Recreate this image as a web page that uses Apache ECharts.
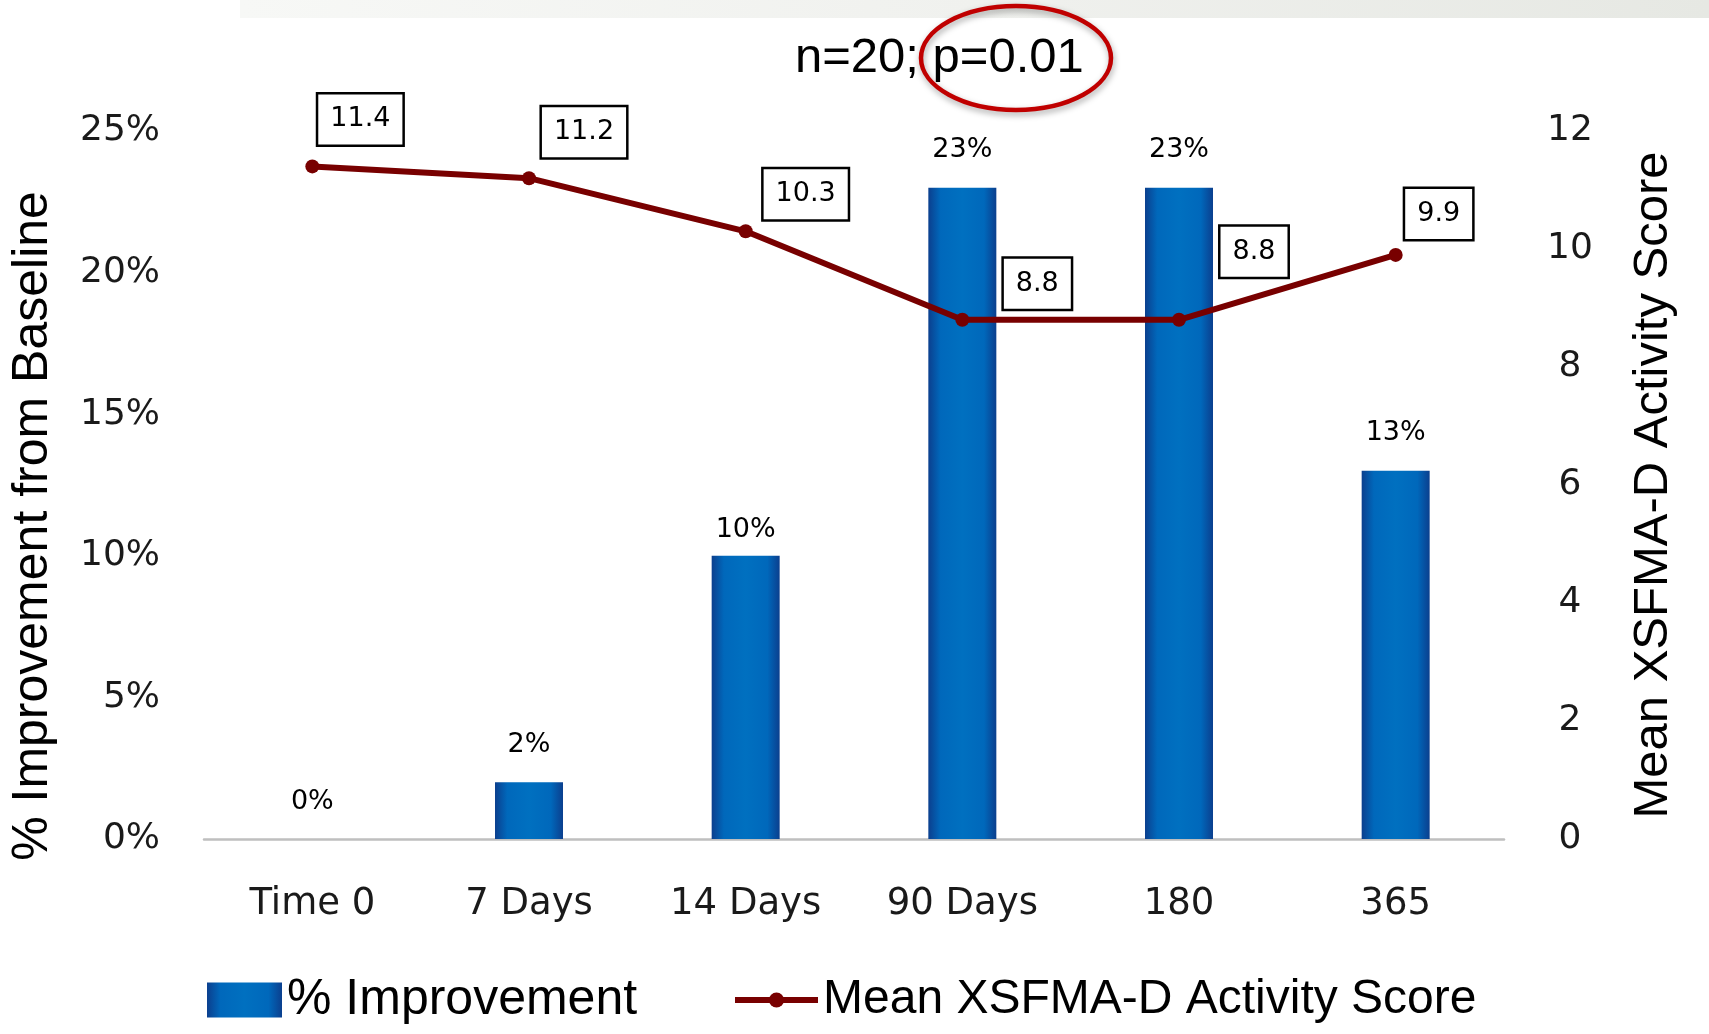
<!DOCTYPE html>
<html>
<head>
<meta charset="utf-8">
<script src="https://cdn.jsdelivr.net/npm/echarts@6/dist/echarts.min.js"></script>
<style>
  html, body { margin: 0; padding: 0; background: #fff; }
  #chart { width: 1709px; height: 1034px; }
</style>
</head>
<body>
<div id="chart"></div>
<script>
// Time points after baseline
const categories = ['Time 0', '7 Days', '14 Days', '90 Days', '180', '365'];
// % improvement from baseline (fraction)
const improvement = [0.00, 0.02, 0.10, 0.23, 0.23, 0.13];
// Mean XSFMA-D activity score
const activityScore = [11.4, 11.2, 10.3, 8.8, 8.8, 9.9];

const seriesNames = ['% Improvement', 'Mean XSFMA-D Activity Score'];
const subtitle = 'n=20; p=0.01';

// Where each boxed score label sits relative to its point (px)
const scoreLabelShift = [[48, -47], [55, -46], [60, -37], [75, -36], [75, -68], [43, -41]];
// Gap between each bar top and its percentage label (px)
const barLabelGap = [24, 24, 12, 24, 24, 24];

const TICK_FONT = 'DejaVu Sans';
const TITLE_FONT = 'Liberation Sans';
const SCORE_RED = '#780000';

const chart = echarts.init(document.getElementById('chart'), null, { renderer: 'canvas' });

const barColor = new echarts.graphic.LinearGradient(0, 0, 1, 0, [
  { offset: 0, color: '#0B3F8E' },
  { offset: 0.18, color: '#0068BB' },
  { offset: 0.5, color: '#0070C0' },
  { offset: 0.82, color: '#0068BB' },
  { offset: 1, color: '#0B3F8E' }
]);

chart.setOption({
  animation: false,
  backgroundColor: '#ffffff',
  grid: { left: 204, right: 205, top: 131, bottom: 195, containLabel: false },
  legend: [
    {
      left: 202,
      top: 970,
      itemWidth: 75,
      itemHeight: 35,
      textStyle: { fontFamily: TITLE_FONT, fontSize: 50, color: '#000' },
      data: [{ name: seriesNames[0], icon: 'rect' }]
    },
    {
      left: 727,
      top: 971,
      itemWidth: 83,
      itemHeight: 19,
      textStyle: { fontFamily: TITLE_FONT, fontSize: 48, color: '#000' },
      lineStyle: { width: 6, color: SCORE_RED },
      data: [{ name: seriesNames[1] }]
    }
  ],
  xAxis: {
    type: 'category',
    data: categories,
    axisLine: { show: true, lineStyle: { color: '#BFBFBF', width: 2.5 } },
    axisTick: { show: false },
    axisLabel: { margin: 47, fontFamily: TICK_FONT, fontSize: 37, color: '#1a1a1a' }
  },
  yAxis: [
    {
      type: 'value',
      min: 0, max: 0.25, interval: 0.05,
      name: '% Improvement from Baseline',
      nameLocation: 'middle',
      nameRotate: 90,
      nameGap: 146,
      nameTextStyle: { fontFamily: TITLE_FONT, fontSize: 50, color: '#000', padding: [0, 82, 0, 0] },
      axisLine: { show: false },
      axisTick: { show: false },
      splitLine: { show: false },
      axisLabel: {
        margin: 44,
        fontFamily: TICK_FONT, fontSize: 36, color: '#1a1a1a',
        formatter: v => Math.round(v * 100) + '%'
      }
    },
    {
      type: 'value',
      min: 0, max: 12, interval: 2,
      name: 'Mean XSFMA-D Activity Score',
      nameLocation: 'middle',
      nameRotate: 90,
      nameGap: 125,
      nameTextStyle: { fontFamily: TITLE_FONT, fontSize: 49, color: '#000' },
      axisLine: { show: false },
      axisTick: { show: false },
      splitLine: { show: false },
      axisLabel: {
        margin: 66, align: 'center',
        fontFamily: TICK_FONT, fontSize: 36, color: '#1a1a1a'
      }
    }
  ],
  series: [
    {
      name: seriesNames[0],
      type: 'bar',
      yAxisIndex: 0,
      barWidth: 68,
      data: improvement.map((v, i) => ({ value: v, label: { distance: barLabelGap[i] } })),
      itemStyle: { color: barColor },
      label: {
        show: true,
        position: 'top',
        fontFamily: TICK_FONT, fontSize: 27, color: '#000',
        formatter: p => Math.round(p.value * 100) + '%'
      }
    },
    {
      name: seriesNames[1],
      type: 'line',
      yAxisIndex: 1,
      data: activityScore.map((v, i) => ({
        value: v,
        label: { offset: scoreLabelShift[i] }
      })),
      symbol: 'circle',
      symbolSize: 14,
      lineStyle: { color: SCORE_RED, width: 6 },
      itemStyle: { color: SCORE_RED },
      z: 5,
      label: {
        show: true,
        position: 'inside',
        fontFamily: TICK_FONT, fontSize: 27, color: '#000',
        backgroundColor: '#fff',
        borderColor: '#000', borderWidth: 2.5,
        padding: [13, 12, 10, 12],
        formatter: p => p.value.toFixed(1)
      }
    }
  ],
  graphic: [
    {
      // faint banner strip along the top edge
      type: 'rect',
      shape: { x: 240, y: 0, width: 1469, height: 18 },
      style: {
        fill: new echarts.graphic.LinearGradient(0, 0, 1, 0, [
          { offset: 0, color: '#F7F8F6' },
          { offset: 0.5, color: '#F0F1EE' },
          { offset: 1, color: '#E6E8E3' }
        ])
      },
      silent: true
    },
    {
      type: 'text',
      left: 795,
      top: 34,
      style: { text: subtitle, fontFamily: TITLE_FONT, fontSize: 49, fill: '#000' },
      silent: true
    },
    {
      // highlight ring around the p-value
      type: 'ellipse',
      shape: { cx: 1016, cy: 58, rx: 95, ry: 52 },
      style: {
        fill: 'none',
        stroke: '#C00000',
        lineWidth: 4.5,
        shadowColor: 'rgba(0,0,0,0.35)',
        shadowBlur: 6,
        shadowOffsetX: 1,
        shadowOffsetY: 3
      },
      silent: true
    }
  ]
});
</script>
</body>
</html>
